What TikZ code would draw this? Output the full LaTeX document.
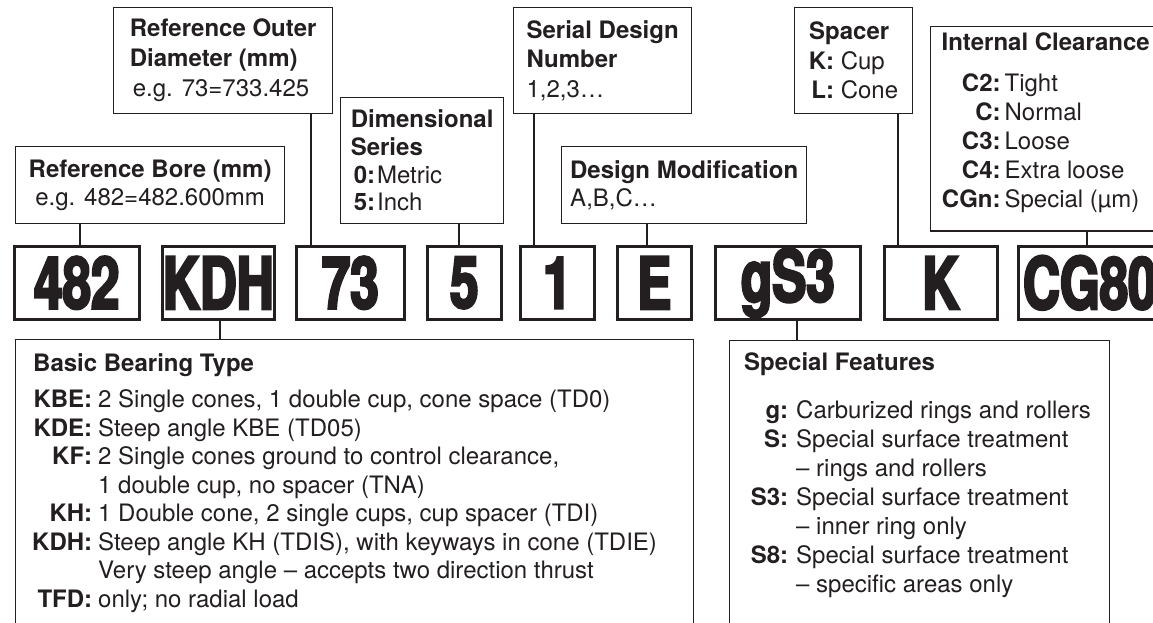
\documentclass[tikz,border=0pt]{standalone}
\usepackage{fontspec}
\setmainfont{TeX Gyre Heros}
\newfontfamily\codefont[FakeStretch=0.71,FakeBold=3.5]{texgyreheros-bold.otf}
\usetikzlibrary{positioning}
\definecolor{ink}{HTML}{231F20}
\tikzset{
	infobox/.style={draw=ink, line width=1.3pt, inner sep=0pt, anchor=north west, align=left, text=ink},
	codebox/.style={draw=ink, line width=2.6pt, inner sep=0pt, anchor=north west,
			minimum height=73pt, text=ink, font=\codefont\fontsize{72}{72}\selectfont},
	listtext/.style={inner sep=0pt, align=left, text=ink},
	link/.style={draw=ink, line width=1.3pt}
}
\newcommand{\keylab}[2]{\makebox[#1][r]{\bfseries #2}}

\begin{document}
\begin{tikzpicture}[x=1pt, y=-1pt, font=\fontsize{24}{28.5}\selectfont]
	\useasboundingbox (0,0) rectangle (1153,623);
	\clip (0,0) rectangle (1153,623);

	% Boxes above the code
	\node[infobox, minimum width=269, minimum height=77, align=center] (bore) at (15,146)
	{\textbf{Reference Bore (mm)}\\e.g. 482=482.600mm};
	\node[infobox, minimum width=219, minimum height=106, font=\fontsize{24}{30}\selectfont] (outer) at (113,7)
	{\textbf{Reference Outer}\\\textbf{Diameter (mm)}\\\hspace{3pt}e.g. 73=733.425};
	\node[infobox, minimum width=163, minimum height=126, font=\fontsize{24}{27.7}\selectfont] (dim) at (340,97)
	{\textbf{Dimensional}\\\textbf{Series}\\\hspace{3pt}\textbf{0:}\hspace{2pt}Metric\\\hspace{3pt}\textbf{5:}\hspace{2pt}Inch};
	\node[infobox, minimum width=178, minimum height=106, font=\fontsize{24}{29.5}\selectfont] (serial) at (513,7)
	{\textbf{Serial Design}\\\textbf{Number}\\1,2,3…};
	\node[infobox, minimum width=245, minimum height=77] (desmod) at (561,146)
	{\textbf{Design Modification}\\A,B,C…};
	\node[infobox, minimum width=118, minimum height=106, font=\fontsize{24}{29.5}\selectfont] (spacer) at (794,7)
	{\textbf{Spacer}\\\keylab{25pt}{K:} Cup\\\keylab{25pt}{L:} Cone};
	\node[infobox, minimum width=230, inner ysep=6.5pt, text depth=16.5pt,
		font=\fontsize{24}{29}\selectfont] (clear) at (930,26)
	{\textbf{Internal Clearance}\\[12pt]%
		\keylab{59pt}{C2:}\hspace{4pt}Tight\\%
		\keylab{59pt}{C:}\hspace{4pt}Normal\\%
		\keylab{59pt}{C3:}\hspace{4pt}Loose\\%
		\keylab{59pt}{C4:}\hspace{4pt}Extra loose\\%
		\keylab{59pt}{CGn:}\hspace{4pt}Special (\symbol{"00B5}m)};

	% The code itself
	\node[codebox, minimum width=125] (c482) at (13,245) {482};
	\node[codebox, minimum width=112] (cKDH) at (161,245) {KDH};
	\node[codebox, minimum width=108] (c73) at (295,245) {73};
	\node[codebox, minimum width=74] (c5) at (426,245) {5};
	\node[codebox, minimum width=74] (c1) at (519,245) {1};
	\node[codebox, minimum width=74] (cE) at (616,245) {E};
	\node[codebox, minimum width=145] (cgS3) at (714,245) {gS3};
	\node[codebox, minimum width=113] (cK) at (883,245) {K};
	\node[codebox, minimum width=143] (cCG80) at (1017,245) {CG80};

	% Boxes below the code
	\node[infobox, minimum width=678, minimum height=320] (basic) at (15,339) {};
	\node[listtext, below right=14.5pt and 18pt of basic.north west] (basictext)
	{\textbf{Basic Bearing Type}\\[7.5pt]%
		\keylab{59pt}{KBE:}\hspace{6pt}2 Single cones, 1 double cup, cone space (TD0)\\%
		\keylab{59pt}{KDE:}\hspace{6pt}Steep angle KBE (TD05)\\%
		\keylab{59pt}{KF:}\hspace{6pt}2 Single cones ground to control clearance,\\%
		\hspace{65pt}1 double cup, no spacer (TNA)\\%
		\keylab{59pt}{KH:}\hspace{6pt}1 Double cone, 2 single cups, cup spacer (TDI)\\%
		\keylab{59pt}{KDH:}\hspace{6pt}Steep angle KH (TDIS), with keyways in cone (TDIE)\\%
		\hspace{65pt}Very steep angle – accepts two direction thrust\\%
		\keylab{59pt}{TFD:}\hspace{6pt}only; no radial load};

	\node[infobox, minimum width=380, minimum height=320] (special) at (729,340) {};
	\node[listtext, below right=12.5pt and 15pt of special.north west,
		font=\fontsize{24}{29}\selectfont] (specialtext)
	{\textbf{Special Features}\\[19pt]%
		\keylab{44pt}{g:}\hspace{8pt}Carburized rings and rollers\\%
		\keylab{44pt}{S:}\hspace{8pt}Special surface treatment\\%
		\hspace{52pt}– rings and rollers\\%
		\keylab{44pt}{S3:}\hspace{8pt}Special surface treatment\\%
		\hspace{52pt}– inner ring only\\%
		\keylab{44pt}{S8:}\hspace{8pt}Special surface treatment\\%
		\hspace{52pt}– specific areas only};

	% Where the connectors run
	\coordinate (x482) at (80,0);
	\coordinate (x73) at (311,0);
	\coordinate (x5) at (459,0);
	\coordinate (x1) at (534,0);
	\coordinate (xE) at (647,0);
	\coordinate (xK) at (898,0);
	\coordinate (xCG) at (1087,0);
	\coordinate (xKDH) at (220,0);
	\coordinate (xgS3) at (797,0);

	\draw[link] (bore.south -| x482) -- (c482.north -| x482);
	\draw[link] (outer.south -| x73) -- (c73.north -| x73);
	\draw[link] (dim.south -| x5) -- (c5.north -| x5);
	\draw[link] (serial.south -| x1) -- (c1.north -| x1);
	\draw[link] (desmod.south -| xE) -- (cE.north -| xE);
	\draw[link] (spacer.south -| xK) -- (cK.north -| xK);
	\draw[link] (clear.south -| xCG) -- (cCG80.north -| xCG);
	\draw[link] (cKDH.south -| xKDH) -- (basic.north -| xKDH);
	\draw[link] (cgS3.south -| xgS3) -- (special.north -| xgS3);
\end{tikzpicture}
\end{document}
